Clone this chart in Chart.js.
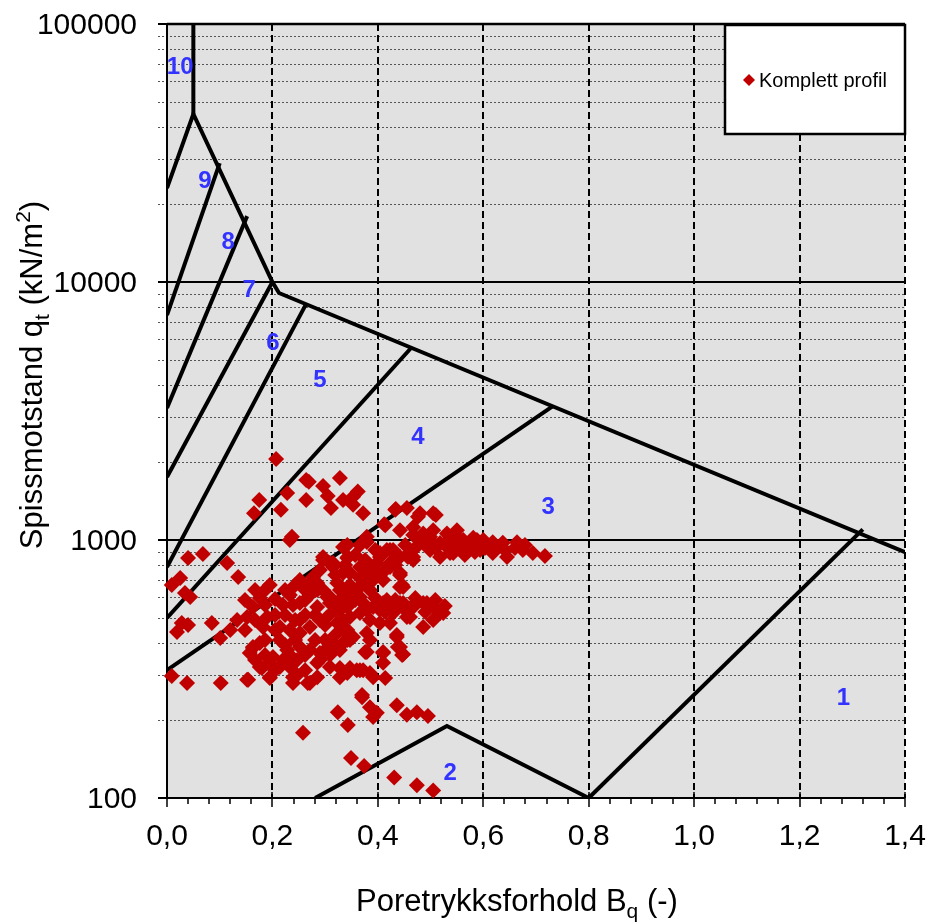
<!DOCTYPE html>
<html>
<head>
<meta charset="utf-8">
<script src="https://cdn.jsdelivr.net/npm/chart.js@4.4.1/dist/chart.umd.min.js"></script>
<style>html,body{margin:0;padding:0;background:#fff}</style>
</head>
<body>
<canvas id="c" width="930" height="922"></canvas>
<script>
// Poretrykksforhold Bq (-) for each measured point
const bq = [
  .207,.264,.269,.296,.328,.228,.175,.165,.216,.264,.305,.311,.334,.353,.362,.353,.372,.237,.379,.412,
  .434,.455,.442,.476,.510,.342,.467,.486,.499,.518,.537,.556,.575,.588,
  .414,.433,.480,.505,.467,.505,.531,.550,.499,.518,.543,.562,.581,.600,.618,.637,
  .569,.594,.618,.645,.664,.675,.694,.717,.531,.556,.423,.442,.467,.442,.423,.442,
  .040,.068,.114,.135,.009,.025,.034,.044,.019,.028,.040,.085,.101,.009,.038,.102,.152,.195,.176,.163,.176,
  .176,.163,.152,.133,.120,.205,.190,.182,.163,.157,.180,.195,.154,.233,.247,.239,.271,.285,
  .220,.239,.252,.214,.233,.252,.271,.214,.228,.252,.271,.290,.201,.220,.247,.285,
  .271,.285,.304,.315,.285,.304,.323,.334,.296,.315,.334,.328,.342,.334,.342,.315,.309,.328,.342,.334,.233,
  .342,.315,.379,.404,.436,.455,.467,.385,.398,.410,.446,.347,.366,.323,.309,.328,.347,.366,
  .372,.391,.410,.429,.448,.467,.486,.505,.518,.461,.486,.505,.385,.404,.423,
  .342,.353,.334,.347,.379,.385,.319,.376,.436,.438,.446,.410,.347,.366,.385,.328,.410,.414,.370,
  .499,.537,.562,.581,.594,.499,.531,.480,
  .366,.417,.442,.467,.493,.512,.524,.455,.429,.404,.379,
  .343,.296,.309,.366,.379,.398,.404,.417,.429,.457,.423,.442,.448,.391,.372,.360,.342,.328,.309,.296,.285,.277,
  .315,.370,.385,.398,.391,.436,.455,.474,.495,.324,.343,.258,.349,.374,.431,.474,.505,
  .379,.448,.436,.442,.410,.342,.360,.372,.391,.195,.214,.239,.267,
  .224,.243,.262,.290,.300,.233,.262,.252,.290,.186,.195,
  .148,.167,.186,.205,.224,.243,.262,.281,.300,.319,
  .148,.167,.186,.205,.224,.243,.262,.281,.300,.319,
  .167,.186,.205,.233,.262,.290,.309,.328,.252,.271,
  .357,.376,.395,.414,.433,.452,.471,.490,.509,.527,
  .319,.338,.357,.376,.395,.414,.433,.452,.471,.366,.347,.385,
  .490,.509,.546,.565,.584,.603,.622,.641,.660,.679
];
// Spissmotstand qt (kN/m2) for each measured point
const qt = [
  2060,1710,1680,1620,1740,1520,1430,1270,1310,1430,1480,1330,1430,1470,1540,1370,1270,1030,1030,1150,
  1320,1330,1090,1230,1250,956,1120,1060,1030,974,1030,1000,974,1000,
  1140,1310,1270,1270,1045,1090,1060,1090,915,860,890,1000,1020,1000,980,975,
  915,915,890,860,980,915,890,867,940,940,915,860,860,745,786,657,
  852,883,815,719,669,712,623,601,440,477,468,477,417,297,279,279,287,292,322,385,399,
  596,550,503,490,448,591,503,460,381,365,319,294,287,322,300,279,279,294,
  560,560,570,460,448,436,460,410,375,385,375,365,352,343,343,334,
  681,640,601,570,550,503,477,448,837,786,745,640,550,490,410,399,322,319,305,939,1000,
  852,815,982,891,859,875,837,786,745,700,669,745,712,681,570,536,503,521,
  570,550,570,550,570,560,570,550,521,503,460,490,490,477,477,
  448,421,399,410,436,410,392,368,421,385,358,365,319,313,305,294,334,292,251,
  939,891,915,939,974,1000,982,1000,
  601,585,570,550,570,536,521,503,521,536,536,
  859,859,815,786,745,815,859,915,915,859,815,732,657,700,681,640,623,585,601,640,681,719,
  392,246,225,214,206,229,210,215,208,215,192,179,143,133,120,112,107,
  368,361,428,385,368,308,313,313,294,334,322,294,279,
  512,490,512,490,410,612,640,700,765,640,669,
  585,640,560,512,640,669,585,512,468,536,
  448,490,410,448,392,410,358,410,375,428,
  343,358,313,358,313,343,358,375,490,612,
  585,545,596,526,585,536,596,526,585,555,
  732,800,875,837,915,765,800,956,931,956,669,640,
  956,931,956,875,899,931,931,915,931,956
];

// soil behaviour zone boundaries [Bq, qt]
const zoneLines = [
  [[0.05, 100000], [0.05, 44800]],
  [[0, 23100], [0.05, 44800], [0.2, 10000], [0.2125, 9065], [1.4, 898]],
  [[0, 7450], [0.1, 28900]],
  [[0, 3250], [0.152, 18000]],
  [[0, 1755], [0.2, 10000]],
  [[0, 786], [0.263, 8150]],
  [[0, 499], [0.463, 5550]],
  [[0, 313], [0.732, 3300]],
  [[0.8, 100], [1.32, 1100]],
  [[0.281, 100], [0.531, 190], [0.8, 100]]
];
const zoneNames = ['10', '9', '8', '7', '6', '5', '4', '3', '2', '1'];
const zoneBq = [0.025, 0.072, 0.116, 0.156, 0.201, 0.29, 0.476, 0.723, 0.537, 1.283];
const zoneQt = [68100, 24600, 14300, 9310, 5800, 4170, 2510, 1343, 125, 244];

const xTicks = [0, 0.2, 0.4, 0.6, 0.8, 1.0, 1.2, 1.4];
const yTicks = [100, 1000, 10000, 100000];
const seriesName = 'Komplett profil';

const FONT = '"Liberation Sans", Arial, sans-serif';
const RED = '#c00000';

function richText(ctx, parts, cx, cy) {
  let w = 0;
  for (const p of parts) { ctx.font = p[1] + 'px ' + FONT; w += ctx.measureText(p[0]).width; }
  let px = cx - w / 2;
  for (const p of parts) {
    ctx.font = p[1] + 'px ' + FONT;
    ctx.fillText(p[0], px, cy + p[2]);
    px += ctx.measureText(p[0]).width;
  }
}

const frame = {
  id: 'frame',
  beforeDatasetsDraw(chart) {
    const { ctx, chartArea: a, scales: { x, y } } = chart;
    ctx.save();
    ctx.fillStyle = '#e1e1e1';
    ctx.fillRect(a.left, a.top, a.right - a.left, a.bottom - a.top);
    // minor horizontal lines
    ctx.strokeStyle = '#555';
    ctx.lineWidth = 1;
    ctx.setLineDash([2, 2]);
    for (const d of yTicks.slice(0, -1)) {
      for (let m = 2; m < 10; m++) {
        const py = Math.round(y.getPixelForValue(d * m)) + 0.5;
        ctx.beginPath(); ctx.moveTo(a.left - 9, py); ctx.lineTo(a.right, py); ctx.stroke();
      }
    }
    ctx.setLineDash([]);
    ctx.strokeStyle = '#000';
    ctx.lineWidth = 2;
    for (const v of yTicks) {
      const py = Math.round(y.getPixelForValue(v));
      ctx.beginPath(); ctx.moveTo(a.left - 9, py); ctx.lineTo(a.right, py); ctx.stroke();
    }
    // vertical dashed lines
    ctx.setLineDash([7, 4]);
    for (const v of xTicks.slice(1)) {
      const px = Math.round(x.getPixelForValue(v));
      ctx.beginPath(); ctx.moveTo(px, a.top); ctx.lineTo(px, a.bottom); ctx.stroke();
    }
    ctx.setLineDash([]);
    ctx.beginPath(); ctx.moveTo(a.left, a.top); ctx.lineTo(a.left, a.bottom); ctx.stroke();
    ctx.lineWidth = 2.5;
    ctx.beginPath(); ctx.moveTo(a.left, a.top); ctx.lineTo(a.right, a.top); ctx.stroke();
    // x tick marks
    ctx.lineWidth = 1.5;
    for (let i = 0; i <= 35; i++) {
      const px = Math.round(x.getPixelForValue(i * 0.04));
      const major = i % 5 === 0;
      ctx.beginPath(); ctx.moveTo(px, a.bottom - (major ? 6 : 0)); ctx.lineTo(px, a.bottom + (major ? 9 : 6)); ctx.stroke();
    }
    // tick labels
    ctx.fillStyle = '#000';
    ctx.font = '30px ' + FONT;
    ctx.textBaseline = 'middle';
    ctx.textAlign = 'right';
    for (const v of yTicks) ctx.fillText(String(v), a.left - 30, y.getPixelForValue(v) + 2);
    ctx.textAlign = 'center';
    for (const v of xTicks) ctx.fillText(v.toFixed(1).replace('.', ','), x.getPixelForValue(v), a.bottom + 39);
    ctx.restore();
  },
  afterDatasetsDraw(chart) {
    const { ctx, chartArea: a, scales: { x, y } } = chart;
    ctx.save();
    ctx.fillStyle = '#3333ff';
    ctx.font = 'bold 24px ' + FONT;
    ctx.textAlign = 'center';
    ctx.textBaseline = 'middle';
    zoneNames.forEach((n, i) => ctx.fillText(n, x.getPixelForValue(zoneBq[i]), y.getPixelForValue(zoneQt[i])));
    // legend box
    const lw = 180, lh = 109, lx = a.right - lw, ly = a.top + 1;
    ctx.fillStyle = '#fff';
    ctx.fillRect(lx, ly, lw, lh);
    ctx.strokeStyle = '#000';
    ctx.lineWidth = 2.5;
    ctx.strokeRect(lx, ly, lw, lh);
    const my = ly + 55, mx = lx + 24, r = 6;
    ctx.fillStyle = RED;
    ctx.beginPath();
    ctx.moveTo(mx - r, my); ctx.lineTo(mx, my - r); ctx.lineTo(mx + r, my); ctx.lineTo(mx, my + r);
    ctx.closePath(); ctx.fill();
    ctx.fillStyle = '#000';
    ctx.font = '20px ' + FONT;
    ctx.textAlign = 'left';
    ctx.fillText(seriesName, lx + 34, my + 1);
    ctx.restore();
  },
  afterDraw(chart) {
    const { ctx } = chart;
    ctx.save();
    ctx.fillStyle = '#000';
    ctx.textAlign = 'left';
    ctx.textBaseline = 'alphabetic';
    richText(ctx, [['Poretrykksforhold B', 31, 0], ['q', 21, 7], [' (-)', 31, 0]], 517, 911);
    ctx.translate(42, 375);
    ctx.rotate(-Math.PI / 2);
    richText(ctx, [['Spissmotstand q', 31, 0], ['t', 21, 7], [' (kN/m', 31, 0], ['2', 21, -12], [')', 31, 0]], 0, 0);
    ctx.restore();
  }
};

const datasets = [{
  label: seriesName,
  data: bq.map((v, i) => ({ x: v, y: qt[i] })),
  pointStyle: 'rectRot',
  pointRadius: 8,
  pointHoverRadius: 8,
  backgroundColor: RED,
  borderColor: RED,
  borderWidth: 0,
  showLine: false,
  clip: false
}];
zoneLines.forEach(l => datasets.push({
  data: l.map(p => ({ x: p[0], y: p[1] })),
  showLine: true,
  borderColor: '#000',
  borderWidth: 4,
  pointRadius: 0,
  fill: false
}));

new Chart(document.getElementById('c'), {
  type: 'scatter',
  data: { datasets },
  options: {
    responsive: false,
    animation: false,
    layout: { padding: { top: 24, right: 25, left: 0, bottom: 0 } },
    plugins: { legend: { display: false }, tooltip: { enabled: false } },
    scales: {
      x: {
        type: 'linear', min: 0, max: 1.4,
        afterBuildTicks: s => { s.ticks = xTicks.map(v => ({ value: v })); },
        afterFit: s => { s.height = 124; },
        ticks: { display: false },
        grid: { display: false, drawTicks: false },
        border: { display: false }
      },
      y: {
        type: 'logarithmic', min: 100, max: 100000,
        afterBuildTicks: s => { s.ticks = yTicks.map(v => ({ value: v })); },
        afterFit: s => { s.width = 167; },
        ticks: { display: false },
        grid: { display: false, drawTicks: false },
        border: { display: false }
      }
    }
  },
  plugins: [frame]
});
</script>
</body>
</html>
